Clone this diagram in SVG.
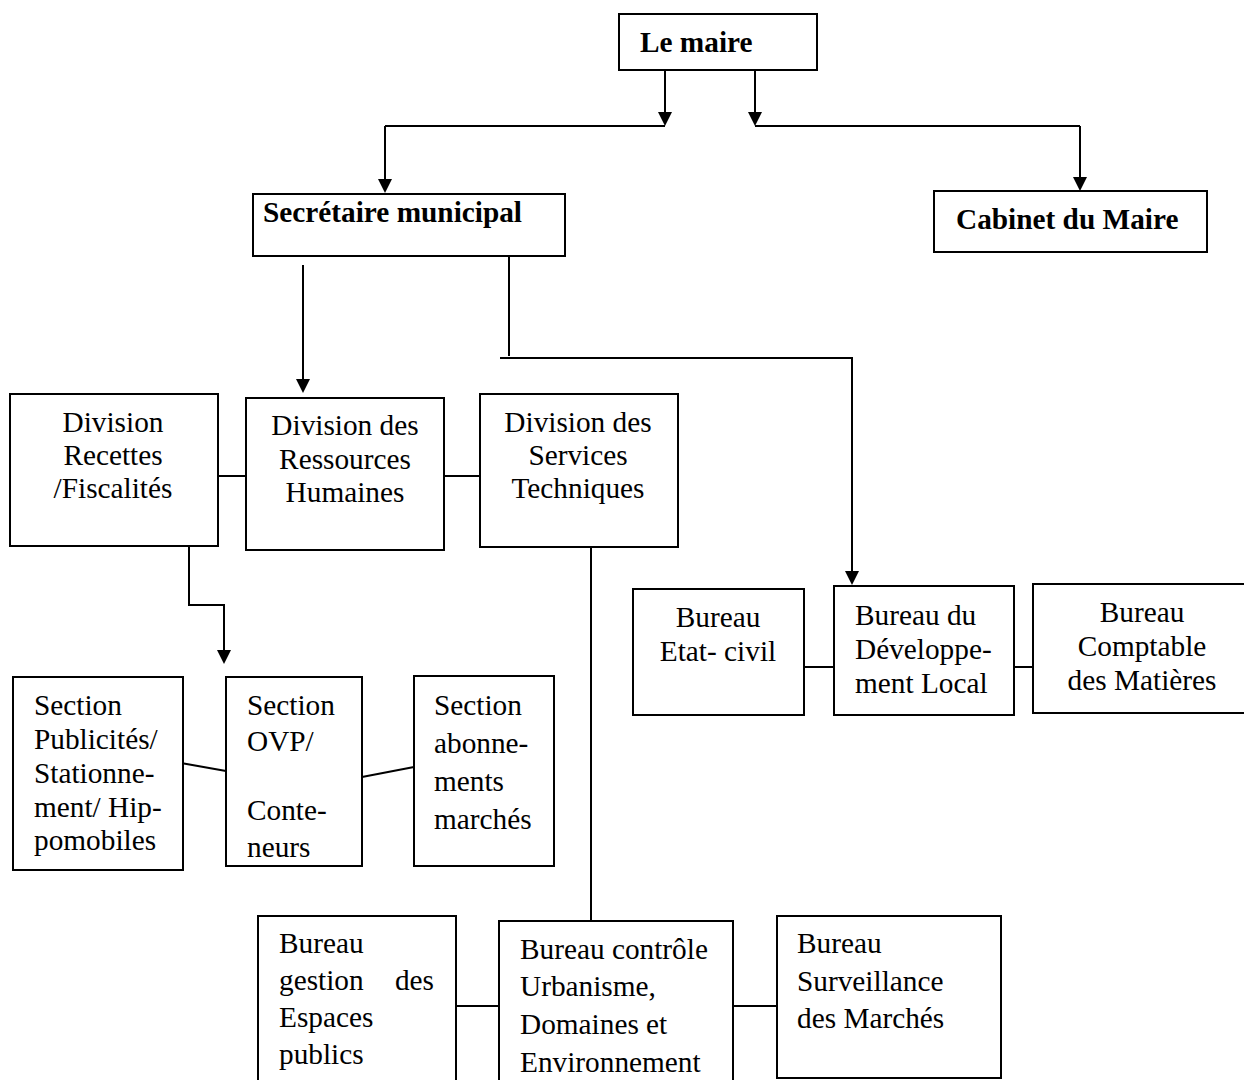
<svg xmlns="http://www.w3.org/2000/svg" width="1244" height="1080" viewBox="0 0 1244 1080">
<style>
.box{fill:#fff;stroke:#000;stroke-width:2}
.t{font-family:"Liberation Serif","Times New Roman",serif;font-size:29.3px;fill:#000}
.b{font-weight:bold}
.c{text-anchor:middle}
.e{text-anchor:end}
.ln{fill:none;stroke:#000;stroke-width:2}
.ar{marker-end:url(#arr)}
</style>
<defs>
<marker id="arr" viewBox="0 0 14 14" markerWidth="14" markerHeight="14" refX="10" refY="7" orient="auto" markerUnits="userSpaceOnUse">
<path d="M0,0 L14,7 L0,14 z" fill="#000"/>
</marker>
</defs>
<rect width="1244" height="1080" fill="#fff"/>
<g id="connectors">
<path class="ln ar" d="M665,70 V122"/>
<path class="ln ar" d="M755,70 V122"/>
<path class="ln" d="M665,126 H385"/>
<path class="ln ar" d="M385,126 V189"/>
<path class="ln" d="M755,126 H1080"/>
<path class="ln ar" d="M1080,126 V187"/>
<path class="ln ar" d="M303,265 V389"/>
<path class="ln" d="M509,253 V356"/>
<path class="ln ar" d="M500,358 H852 V581"/>
<path class="ln" d="M218,476 H246"/>
<path class="ln" d="M444,476 H480"/>
<path class="ln ar" d="M189,546 V605 H224 V660"/>
<path class="ln" d="M181,763 L226,771"/>
<path class="ln" d="M362,777 L414,767"/>
<path class="ln" d="M591,547 V921"/>
<path class="ln" d="M804,667 H834"/>
<path class="ln" d="M1014,667 H1033"/>
<path class="ln" d="M456,1006 H499"/>
<path class="ln" d="M733,1006 H777"/>
</g>
<g id="le-maire">
<rect class="box" x="619" y="14" width="198" height="56"/>
<text class="t b" x="640" y="52">Le maire</text>
</g>
<g id="secretaire">
<rect class="box" x="253" y="194" width="312" height="62"/>
<text class="t b" x="263" y="222">Secrétaire municipal</text>
</g>
<g id="cabinet">
<rect class="box" x="934" y="191" width="273" height="61"/>
<text class="t b" x="956" y="229">Cabinet du Maire</text>
</g>
<g id="div-recettes">
<rect class="box" x="10" y="394" width="208" height="152"/>
<text class="t c" x="113" y="432">Division</text>
<text class="t c" x="113" y="465">Recettes</text>
<text class="t c" x="113" y="498">/Fiscalités</text>
</g>
<g id="div-rh">
<rect class="box" x="246" y="398" width="198" height="152"/>
<text class="t c" x="345" y="435">Division des</text>
<text class="t c" x="345" y="469">Ressources</text>
<text class="t c" x="345" y="502">Humaines</text>
</g>
<g id="div-services">
<rect class="box" x="480" y="394" width="198" height="153"/>
<text class="t c" x="578" y="432">Division des</text>
<text class="t c" x="578" y="465">Services</text>
<text class="t c" x="578" y="498">Techniques</text>
</g>
<g id="sec-publicites">
<rect class="box" x="13" y="677" width="170" height="193"/>
<text class="t" x="34" y="715">Section</text>
<text class="t" x="34" y="749">Publicités/</text>
<text class="t" x="34" y="783">Stationne-</text>
<text class="t" x="34" y="817">ment/ Hip-</text>
<text class="t" x="34" y="850">pomobiles</text>
</g>
<g id="sec-ovp">
<rect class="box" x="226" y="677" width="136" height="189"/>
<text class="t" x="247" y="715">Section</text>
<text class="t" x="247" y="751">OVP/</text>
<text class="t" x="247" y="820">Conte-</text>
<text class="t" x="247" y="857">neurs</text>
</g>
<g id="sec-abonnements">
<rect class="box" x="414" y="676" width="140" height="190"/>
<text class="t" x="434" y="715">Section</text>
<text class="t" x="434" y="753">abonne-</text>
<text class="t" x="434" y="791">ments</text>
<text class="t" x="434" y="829">marchés</text>
</g>
<g id="bur-etat-civil">
<rect class="box" x="633" y="589" width="171" height="126"/>
<text class="t c" x="718" y="627">Bureau</text>
<text class="t c" x="718" y="661">Etat- civil</text>
</g>
<g id="bur-developpement">
<rect class="box" x="834" y="586" width="180" height="129"/>
<text class="t" x="855" y="625">Bureau du</text>
<text class="t" x="855" y="659">Développe-</text>
<text class="t" x="855" y="693">ment Local</text>
</g>
<g id="bur-comptable">
<rect class="box" x="1033" y="584" width="215" height="129"/>
<text class="t c" x="1142" y="622">Bureau</text>
<text class="t c" x="1142" y="656">Comptable</text>
<text class="t c" x="1142" y="690">des Matières</text>
</g>
<g id="bur-espaces">
<rect class="box" x="258" y="916" width="198" height="170"/>
<text class="t" x="279" y="953">Bureau</text>
<text class="t" x="279" y="990">gestion</text>
<text class="t e" x="434" y="990">des</text>
<text class="t" x="279" y="1027">Espaces</text>
<text class="t" x="279" y="1064">publics</text>
</g>
<g id="bur-controle">
<rect class="box" x="499" y="921" width="234" height="165"/>
<text class="t" x="520" y="959">Bureau contrôle</text>
<text class="t" x="520" y="996">Urbanisme,</text>
<text class="t" x="520" y="1034">Domaines et</text>
<text class="t" x="520" y="1072">Environnement</text>
</g>
<g id="bur-surveillance">
<rect class="box" x="777" y="916" width="224" height="162"/>
<text class="t" x="797" y="953">Bureau</text>
<text class="t" x="797" y="991">Surveillance</text>
<text class="t" x="797" y="1028">des Marchés</text>
</g>
</svg>
